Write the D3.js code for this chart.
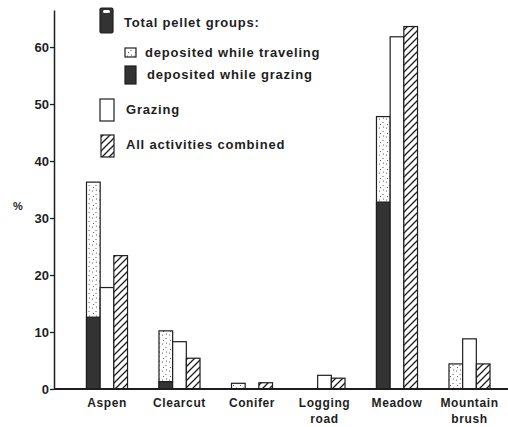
<!DOCTYPE html>
<html>
<head>
<meta charset="utf-8">
<script src="https://cdn.jsdelivr.net/npm/d3@7"></script>
<style>
  html, body { margin: 0; padding: 0; background: #fff; }
  svg { display: block; }
  text { font-family: "Liberation Sans", Arial, sans-serif; font-weight: bold; fill: #1e1e1e; }
</style>
</head>
<body>
<svg id="chart" width="508" height="427"></svg>
<script>
// ---- data ----
const categories = ["Aspen", "Clearcut", "Conifer", "Logging road", "Meadow", "Mountain brush"];
const depositedWhileGrazing   = [12.6, 1.3, 0,   0,   32.8, 0];
const depositedWhileTraveling = [23.7, 8.9, 1.0, 0,   15.0, 4.4];
const grazing                 = [17.8, 8.3, 0,   2.4, 61.8, 8.8];
const allActivities           = [23.4, 5.4, 1.1, 1.9, 63.6, 4.4];
const yTicks = [0, 10, 20, 30, 40, 50, 60];
const yLabel = "%";
const legendItems = [
  {key: "total",     label: "Total pellet groups:"},
  {key: "traveling", label: "deposited while traveling"},
  {key: "grazingDep",label: "deposited while grazing"},
  {key: "grazing",   label: "Grazing"},
  {key: "all",       label: "All activities combined"}
];

const svg = d3.select("#chart");
const ink = "#1e1e1e";

// patterns
const defs = svg.append("defs");
const dots = defs.append("pattern").attr("id", "dots")
  .attr("patternUnits", "userSpaceOnUse").attr("width", 7).attr("height", 9);
dots.append("rect").attr("width", 7).attr("height", 9).attr("fill", "#fff");
[[1.5, 2], [5, 5.5], [2.5, 7.5], [5.5, 1]].forEach(([cx, cy]) =>
  dots.append("circle").attr("cx", cx).attr("cy", cy).attr("r", 0.55).attr("fill", "#444"));
const hatch = defs.append("pattern").attr("id", "hatch")
  .attr("patternUnits", "userSpaceOnUse").attr("width", 7).attr("height", 7);
hatch.append("rect").attr("width", 7).attr("height", 7).attr("fill", "#fff");
hatch.append("path").attr("d", "M-1,8 L8,-1 M-1,1 L1,-1 M6,8 L8,6")
  .attr("stroke", ink).attr("stroke-width", 1.3);

// scales
const x0 = d3.scaleBand().domain(categories).range([70.75, 505.75])
  .paddingInner(0.434).paddingOuter(0.217);
const x1 = d3.scaleBand().domain(["total", "grazing", "all"]).range([0, x0.bandwidth()]);
const y = d3.scaleLinear().domain([0, 66.5]).range([389, 10]);

// y axis
const yAxis = svg.append("g").attr("transform", "translate(54,0)")
  .call(d3.axisLeft(y).tickValues(yTicks).tickSize(4).tickSizeOuter(0).tickPadding(1));
yAxis.select(".domain").attr("stroke", ink).attr("stroke-width", 1.5);
yAxis.selectAll(".tick line").attr("stroke", ink).attr("stroke-width", 1.3);
yAxis.selectAll(".tick text").style("font-size", "13px").attr("fill", ink)
  .style("font-family", "'Liberation Sans', Arial, sans-serif").style("font-weight", "bold");

svg.append("text").attr("x", 18).attr("y", 210).attr("text-anchor", "middle")
  .style("font-size", "11px").text(yLabel);

// bars
const g = svg.append("g");
categories.forEach((c, i) => {
  const bx = x0(c);
  const tot = depositedWhileGrazing[i] + depositedWhileTraveling[i];
  if (tot > 0) {
    // traveling (top part)
    g.append("rect").attr("x", bx + x1("total")).attr("width", x1.bandwidth())
      .attr("y", y(tot)).attr("height", y(0) - y(tot))
      .attr("fill", "url(#dots)").attr("stroke", ink).attr("stroke-width", 1.2);
    if (depositedWhileGrazing[i] > 0) {
      g.append("rect").attr("x", bx + x1("total")).attr("width", x1.bandwidth())
        .attr("y", y(depositedWhileGrazing[i])).attr("height", y(0) - y(depositedWhileGrazing[i]))
        .attr("fill", "#333").attr("stroke", ink).attr("stroke-width", 1.2);
    }
  }
  if (grazing[i] > 0) {
    g.append("rect").attr("x", bx + x1("grazing")).attr("width", x1.bandwidth())
      .attr("y", y(grazing[i])).attr("height", y(0) - y(grazing[i]))
      .attr("fill", "#fff").attr("stroke", ink).attr("stroke-width", 1.2);
  }
  if (allActivities[i] > 0) {
    g.append("rect").attr("x", bx + x1("all")).attr("width", x1.bandwidth())
      .attr("y", y(allActivities[i])).attr("height", y(0) - y(allActivities[i]))
      .attr("fill", "url(#hatch)").attr("stroke", ink).attr("stroke-width", 1.2);
  }
});

// x axis
const xAxis = svg.append("g").attr("transform", `translate(0,${y(0)})`)
  .call(d3.axisBottom(x0).tickSize(0).tickPadding(10));
xAxis.select(".domain").remove();
svg.append("line").attr("x1", 54).attr("x2", 508).attr("y1", y(0)).attr("y2", y(0))
  .attr("stroke", ink).attr("stroke-width", 1.8);
xAxis.selectAll(".tick text").each(function(d) {
  const t = d3.select(this);
  const words = d.split(" ");
  t.text(null).attr("y", 18).attr("dy", 0)
    .style("font-size", "12px").style("letter-spacing", "0.6px").attr("fill", ink)
    .style("font-family", "'Liberation Sans', Arial, sans-serif").style("font-weight", "bold");
  words.forEach((w, k) => t.append("tspan").attr("x", 0).attr("dy", k === 0 ? 0 : 16).text(w));
});

// legend
const L = svg.append("g");
const sym = [
  {x: 100, y: 8,   w: 13, h: 25, label: {x: 124, y: 27}},
  {x: 125, y: 48,  w: 11, h: 9,  label: {x: 145, y: 57}},
  {x: 125, y: 66,  w: 11, h: 18, label: {x: 147, y: 79}},
  {x: 100, y: 99,  w: 14, h: 22, label: {x: 126, y: 114}},
  {x: 101, y: 135, w: 13, h: 22, label: {x: 126, y: 149}}
];
legendItems.forEach((it, i) => {
  const s = sym[i];
  if (it.key === "total") {
    L.append("rect").attr("x", s.x).attr("y", s.y).attr("width", s.w).attr("height", s.h)
      .attr("rx", 1.5).attr("fill", "#333").attr("stroke", ink).attr("stroke-width", 1.2);
    L.append("rect").attr("x", s.x + 3).attr("y", s.y + 2).attr("width", s.w - 6).attr("height", 3)
      .attr("rx", 1.5).attr("fill", "#fff");
  } else if (it.key === "traveling") {
    L.append("rect").attr("x", s.x).attr("y", s.y).attr("width", s.w).attr("height", s.h)
      .attr("fill", "url(#dots)").attr("stroke", ink).attr("stroke-width", 1.2);
  } else if (it.key === "grazingDep") {
    L.append("rect").attr("x", s.x).attr("y", s.y).attr("width", s.w).attr("height", s.h)
      .attr("fill", "#333").attr("stroke", ink).attr("stroke-width", 1.2);
  } else if (it.key === "grazing") {
    L.append("rect").attr("x", s.x).attr("y", s.y).attr("width", s.w).attr("height", s.h)
      .attr("fill", "#fff").attr("stroke", ink).attr("stroke-width", 1.2);
  } else {
    L.append("rect").attr("x", s.x).attr("y", s.y).attr("width", s.w).attr("height", s.h)
      .attr("fill", "url(#hatch)").attr("stroke", ink).attr("stroke-width", 1.2);
  }
  L.append("text").attr("x", s.label.x).attr("y", s.label.y)
    .style("font-size", "13px").style("letter-spacing", "0.8px").text(it.label);
});
</script>
</body>
</html>
